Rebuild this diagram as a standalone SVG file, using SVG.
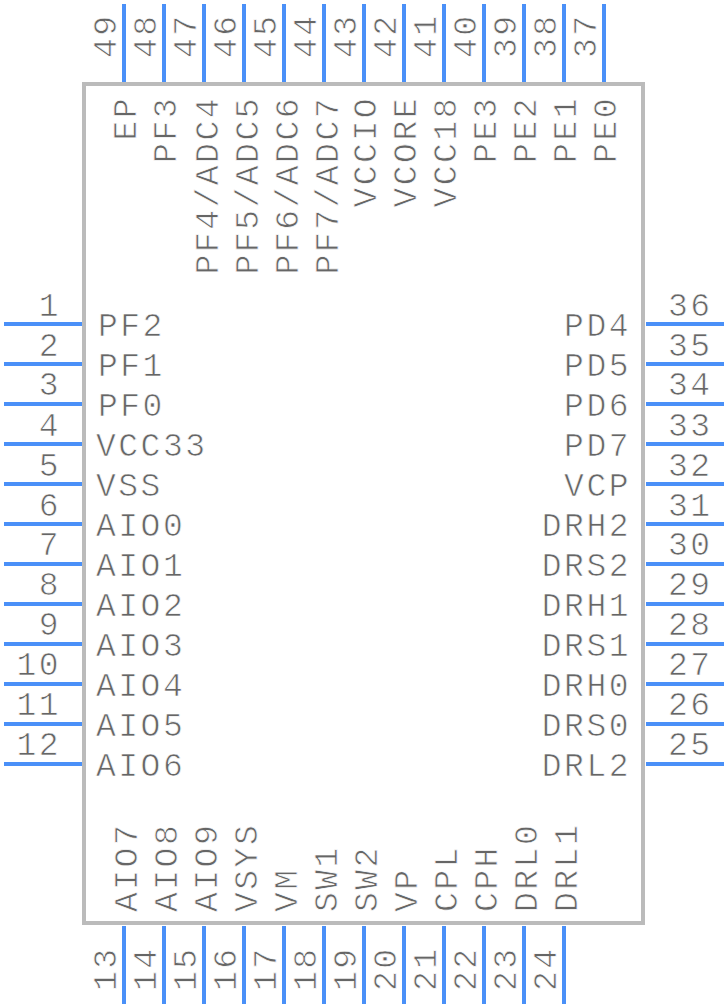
<svg xmlns="http://www.w3.org/2000/svg" width="728" height="1008" viewBox="0 0 728 1008">
<style>
.b{fill:#fff;stroke:#bbb;stroke-width:4}
.p{stroke:#4a90f8;stroke-width:4;fill:none}
text{font-family:"Liberation Mono","DejaVu Sans Mono",monospace;font-size:33px;letter-spacing:2.5px;fill:#666;stroke:#fff;stroke-width:.7px}
.e{text-anchor:end}
</style>
<rect width="728" height="1008" fill="#fff"/>
<g id="body"><rect class="b" x="84" y="84" width="559" height="839"/></g>
<g id="connectors">
<path class="p" d="M4 324H82M4 364H82M4 404H82M4 444H82M4 484H82M4 524H82M4 564H82M4 604H82M4 644H82M4 684H82M4 724H82M4 764H82"/>
<path class="p" d="M646 324H724M646 364H724M646 404H724M646 444H724M646 484H724M646 524H724M646 564H724M646 604H724M646 644H724M646 684H724M646 724H724M646 764H724"/>
<path class="p" d="M124 4V82M164 4V82M204 4V82M244 4V82M284 4V82M324 4V82M364 4V82M404 4V82M444 4V82M484 4V82M524 4V82M564 4V82M604 4V82"/>
<path class="p" d="M124 926V1004M164 926V1004M204 926V1004M244 926V1004M284 926V1004M324 926V1004M364 926V1004M404 926V1004M444 926V1004M484 926V1004M524 926V1004M564 926V1004"/>
</g>
<g id="pin1"><text class="e" x="61" y="316">1</text><text x="98" y="336">PF2</text></g>
<g id="pin2"><text class="e" x="61" y="356">2</text><text x="98" y="376">PF1</text></g>
<g id="pin3"><text class="e" x="61" y="395">3</text><text x="98" y="416">PF0</text></g>
<g id="pin4"><text class="e" x="61" y="436">4</text><text x="96" y="456">VCC33</text></g>
<g id="pin5"><text class="e" x="61" y="476">5</text><text x="96" y="496">VSS</text></g>
<g id="pin6"><text class="e" x="61" y="516">6</text><text x="96" y="536">AIO0</text></g>
<g id="pin7"><text class="e" x="61" y="555">7</text><text x="96" y="576">AIO1</text></g>
<g id="pin8"><text class="e" x="61" y="595">8</text><text x="96" y="616">AIO2</text></g>
<g id="pin9"><text class="e" x="61" y="635">9</text><text x="96" y="656">AIO3</text></g>
<g id="pin10"><text class="e" x="61" y="675">10</text><text x="96" y="696">AIO4</text></g>
<g id="pin11"><text class="e" x="61" y="715">11</text><text x="96" y="736">AIO5</text></g>
<g id="pin12"><text class="e" x="61" y="755">12</text><text x="96" y="776">AIO6</text></g>
<g id="pin25"><text x="668" y="755">25</text><text class="e" x="631" y="776">DRL2</text></g>
<g id="pin26"><text x="668" y="715">26</text><text class="e" x="631" y="736">DRS0</text></g>
<g id="pin27"><text x="668" y="675">27</text><text class="e" x="631" y="696">DRH0</text></g>
<g id="pin28"><text x="668" y="635">28</text><text class="e" x="631" y="656">DRS1</text></g>
<g id="pin29"><text x="668" y="595">29</text><text class="e" x="631" y="616">DRH1</text></g>
<g id="pin30"><text x="668" y="555">30</text><text class="e" x="631" y="576">DRS2</text></g>
<g id="pin31"><text x="668" y="516">31</text><text class="e" x="631" y="536">DRH2</text></g>
<g id="pin32"><text x="668" y="476">32</text><text class="e" x="631" y="496">VCP</text></g>
<g id="pin33"><text x="668" y="436">33</text><text class="e" x="631" y="456">PD7</text></g>
<g id="pin34"><text x="668" y="395">34</text><text class="e" x="631" y="416">PD6</text></g>
<g id="pin35"><text x="668" y="356">35</text><text class="e" x="631" y="376">PD5</text></g>
<g id="pin36"><text x="668" y="316">36</text><text class="e" x="631" y="336">PD4</text></g>
<g id="pin49"><text transform="translate(116 58) rotate(-90)">49</text><text class="e" transform="translate(136 96) rotate(-90)">EP</text></g>
<g id="pin48"><text transform="translate(156 58) rotate(-90)">48</text><text class="e" transform="translate(176 96) rotate(-90)">PF3</text></g>
<g id="pin47"><text transform="translate(196 58) rotate(-90)">47</text><text class="e" transform="translate(218 96) rotate(-90)">PF4/ADC4</text></g>
<g id="pin46"><text transform="translate(236 58) rotate(-90)">46</text><text class="e" transform="translate(258 96) rotate(-90)">PF5/ADC5</text></g>
<g id="pin45"><text transform="translate(276 58) rotate(-90)">45</text><text class="e" transform="translate(298 96) rotate(-90)">PF6/ADC6</text></g>
<g id="pin44"><text transform="translate(316 58) rotate(-90)">44</text><text class="e" transform="translate(338 96) rotate(-90)">PF7/ADC7</text></g>
<g id="pin43"><text transform="translate(356 58) rotate(-90)">43</text><text class="e" transform="translate(376 96) rotate(-90)">VCCIO</text></g>
<g id="pin42"><text transform="translate(396 58) rotate(-90)">42</text><text class="e" transform="translate(416 96) rotate(-90)">VCORE</text></g>
<g id="pin41"><text transform="translate(436 58) rotate(-90)">41</text><text class="e" transform="translate(456 96) rotate(-90)">VCC18</text></g>
<g id="pin40"><text transform="translate(476 58) rotate(-90)">40</text><text class="e" transform="translate(496 96) rotate(-90)">PE3</text></g>
<g id="pin39"><text transform="translate(516 58) rotate(-90)">39</text><text class="e" transform="translate(536 96) rotate(-90)">PE2</text></g>
<g id="pin38"><text transform="translate(556 58) rotate(-90)">38</text><text class="e" transform="translate(576 96) rotate(-90)">PE1</text></g>
<g id="pin37"><text transform="translate(596 58) rotate(-90)">37</text><text class="e" transform="translate(616 96) rotate(-90)">PE0</text></g>
<g id="pin13"><text transform="translate(116 991) rotate(-90)">13</text><text transform="translate(137 912) rotate(-90)">AIO7</text></g>
<g id="pin14"><text transform="translate(156 991) rotate(-90)">14</text><text transform="translate(177 912) rotate(-90)">AIO8</text></g>
<g id="pin15"><text transform="translate(196 991) rotate(-90)">15</text><text transform="translate(217 912) rotate(-90)">AIO9</text></g>
<g id="pin16"><text transform="translate(236 991) rotate(-90)">16</text><text transform="translate(257 912) rotate(-90)">VSYS</text></g>
<g id="pin17"><text transform="translate(276 991) rotate(-90)">17</text><text transform="translate(297 912) rotate(-90)">VM</text></g>
<g id="pin18"><text transform="translate(316 991) rotate(-90)">18</text><text transform="translate(337 912) rotate(-90)">SW1</text></g>
<g id="pin19"><text transform="translate(356 991) rotate(-90)">19</text><text transform="translate(377 912) rotate(-90)">SW2</text></g>
<g id="pin20"><text transform="translate(396 991) rotate(-90)">20</text><text transform="translate(417 912) rotate(-90)">VP</text></g>
<g id="pin21"><text transform="translate(436 991) rotate(-90)">21</text><text transform="translate(457 912) rotate(-90)">CPL</text></g>
<g id="pin22"><text transform="translate(476 991) rotate(-90)">22</text><text transform="translate(497 912) rotate(-90)">CPH</text></g>
<g id="pin23"><text transform="translate(516 991) rotate(-90)">23</text><text transform="translate(537 912) rotate(-90)">DRL0</text></g>
<g id="pin24"><text transform="translate(556 991) rotate(-90)">24</text><text transform="translate(577 912) rotate(-90)">DRL1</text></g>
</svg>
